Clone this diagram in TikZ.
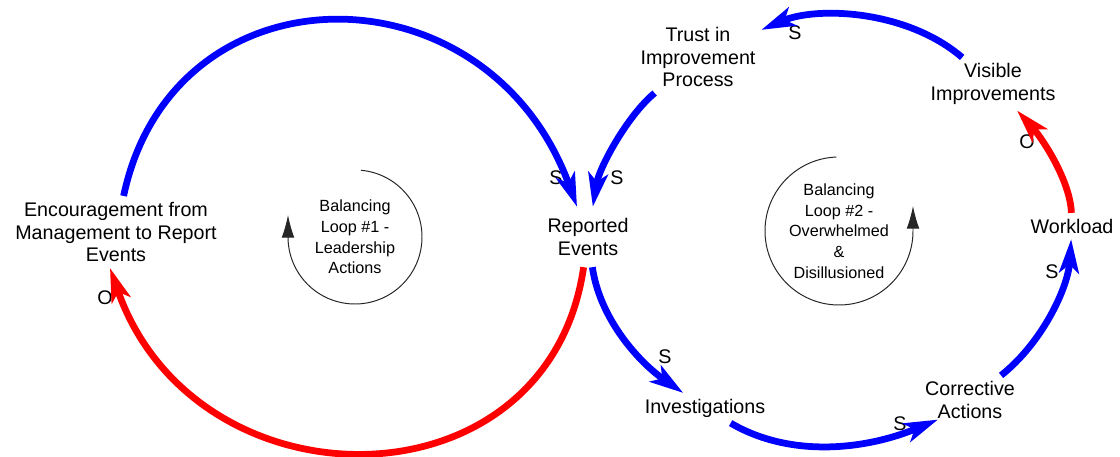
\documentclass[tikz,border=0pt]{standalone}
\usepackage{fontspec}
\setmainfont{Liberation Sans}
\usetikzlibrary{arrows.meta}

\begin{document}
\begin{tikzpicture}[
        x=0.025cm, y=0.025cm,
        align=center,
        var/.style = {inner sep=4pt, font=\fontsize{14}{16.3}\selectfont},
        sign/.style = {inner sep=0pt, font=\fontsize{14}{16}\selectfont},
        title/.style = {inner sep=0pt, font=\fontsize{11.5}{14.7}\selectfont},
        same/.style = {draw=blue, line width=4.8pt, -{Stealth[length=24pt,width=14pt,inset=6pt]}},
        opp/.style = {same, draw=red},
        turn/.style = {draw=black!85, line width=0.7pt, -{Latex[length=16pt,width=9pt]}}
    ]

        \useasboundingbox (0,0) rectangle (1120,456);

        \node[var] (enc) at (116,224) {Encouragement from\\Management to Report\\Events};
        \node[var, inner sep=8pt] (rep) at (588,219) {Reported\\Events};
        \node[var] (trust) at (698,399) {Trust in\\Improvement\\Process};
        \node[var] (vis) at (993,372) {Visible\\Improvements};
        \node[var] (work) at (1072,230) {Workload};
        \node[var] (corr) at (970,56) {Corrective\\Actions};
        \node[var] (inv) at (705,48) {Investigations};

        \node[title] (b1) at (355,219) {Balancing\\Loop \#1 -\\Leadership\\Actions};
        \node[title] (b2) at (839,225) {Balancing\\Loop \#2 -\\Overwhelmed\\\&\\Disillusioned};

        \node[sign] (s1) at (556,278) {S};
        \node[sign] (s2) at (617,278) {S};
        \node[sign] (o1) at (105,158) {O};
        \node[sign] (s3) at (665,99) {S};
        \node[sign] (s4) at (900,32) {S};
        \node[sign] (s5) at (1052,184) {S};
        \node[sign] (o2) at (1027,314) {O};
        \node[sign] (s6) at (795,423) {S};

        % loop 1
        \draw[same] (enc) .. controls (173,494) and (488,494) .. (rep);
        \draw[opp] (rep) .. controls (548,-57) and (195,-57) .. ([shift={(-6,0)}]enc.south);

        % loop 2
        \draw[same] (rep) .. controls (600,136) and (640,93) .. (inv);
        \draw[same] (inv) .. controls (790,-2) and (865,6) .. ([shift={(-32,5)}]corr.south);
        \draw[same] (corr) .. controls (1042,113) and (1068,168) .. (work);
        \draw[opp] (work) .. controls (1070,276) and (1042,318) .. (vis);
        \draw[same] (vis) .. controls (907,446) and (817,450) .. (trust);
        \draw[same] (trust) .. controls (627,340) and (599,288) .. (rep);

        % loop markers
        \draw[turn] ([shift={(85:67)}]b1.center) arc[start angle=85, end angle=-180, radius=67] -- ++(0,22);
        \draw[turn] ([shift={(92:74)}]b2.center) arc[start angle=92, end angle=360, radius=74] -- ++(0,25);

    \end{tikzpicture}
\end{document}
